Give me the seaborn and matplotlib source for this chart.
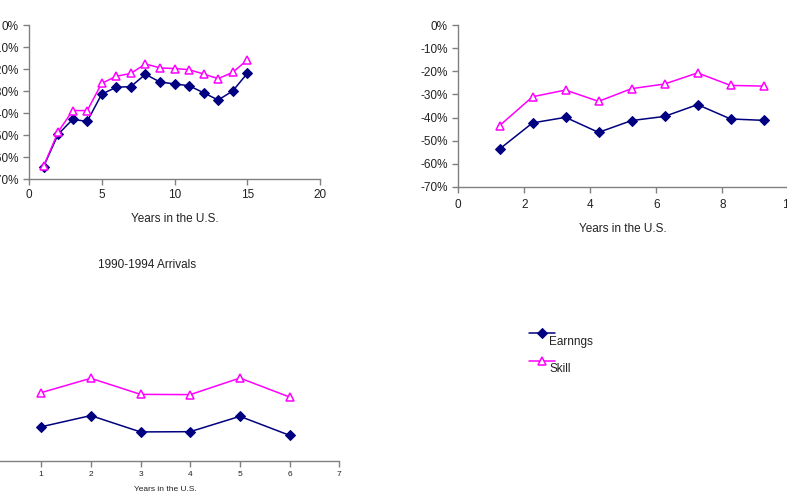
import matplotlib
matplotlib.use("Agg")
import matplotlib.pyplot as plt
import seaborn as sns
import pandas as pd
from matplotlib.ticker import FuncFormatter

sns.set_style("ticks")
plt.rcParams['font.family'] = ['Liberation Sans', 'DejaVu Sans']

# ---- data ----
years_a = [1, 2, 3, 4, 5, 6, 7, 8, 9, 10, 11, 12, 13, 14, 15]
earn_a = [-64.4, -49.7, -42.9, -43.8, -31.4, -28.3, -28.0, -22.4, -25.9, -26.8, -27.6, -30.8, -34.1, -30.0, -22.0]
skill_a = [-64.2, -48.6, -38.9, -38.9, -26.5, -23.3, -22.0, -17.7, -19.5, -19.8, -20.3, -22.3, -24.4, -21.5, -15.9]

years_b = [1.25, 2.25, 3.25, 4.25, 5.25, 6.25, 7.25, 8.25, 9.25]
earn_b = [-53.6, -42.3, -39.9, -46.4, -41.3, -39.5, -34.4, -40.6, -41.2]
skill_b = [-43.5, -31.0, -28.1, -33.0, -27.5, -25.5, -20.7, -26.1, -26.4]

years_c = [1, 2, 3, 4, 5, 6]
earn_c = [-56.1, -51.5, -58.2, -58.1, -51.8, -59.6]
skill_c = [-42.1, -36.2, -42.8, -42.9, -36.1, -43.9]

title_c = "1990-1994 Arrivals"
xlabel = "Years in the U.S."
series_names = ["Earnngs", "Skill"]

NAVY = "#000080"
MAGENTA = "#FF00FF"
AXC = "#808080"
TXT = "#222222"

W, H = 787, 498
fig = plt.figure(figsize=(W / 100, H / 100), dpi=100)


def px_axes(x0, x1, y0, y1):
    return fig.add_axes([x0 / W, 1 - y1 / H, (x1 - x0) / W, (y1 - y0) / H])


def draw(ax, xs, e, s, ms=5.5):
    df = pd.DataFrame({"x": xs + xs, "y": e + s,
                       "series": [series_names[0]] * len(xs) + [series_names[1]] * len(xs)})
    sns.lineplot(data=df[df.series == series_names[0]], x="x", y="y", ax=ax, color=NAVY,
                 marker="D", markersize=ms, markerfacecolor=NAVY, markeredgecolor=NAVY,
                 linewidth=1.1, label=series_names[0], legend=False)
    sns.lineplot(data=df[df.series == series_names[1]], x="x", y="y", ax=ax, color=MAGENTA,
                 marker="^", markersize=ms + 0.5, markerfacecolor="white", markeredgecolor=MAGENTA,
                 markeredgewidth=1.1, linewidth=1.1, label=series_names[1], legend=False)


def style(ax, fs, ticklen=4):
    for sp in ["top", "right"]:
        ax.spines[sp].set_visible(False)
    for sp in ["left", "bottom"]:
        ax.spines[sp].set_color(AXC)
        ax.spines[sp].set_linewidth(1.0)
    ax.tick_params(axis="both", colors=AXC, labelcolor=TXT, labelsize=fs, length=ticklen, width=1.0)
    ax.yaxis.set_major_formatter(FuncFormatter(lambda v, p: f"{int(round(v))}%"))
    ax.set_ylabel("")


# top-left
ax1 = px_axes(29, 320, 25, 179)
draw(ax1, years_a, earn_a, skill_a)
ax1.set_xlim(0, 20)
ax1.set_ylim(-70, 0)
ax1.set_xticks([0, 5, 10, 15, 20])
ax1.set_yticks(range(-70, 1, 10))
style(ax1, 8.5)
ax1.set_xlabel(xlabel, fontsize=8.5, color=TXT, labelpad=8)

# top-right
ax2 = px_axes(458.3, 788.3, 25, 187)
draw(ax2, years_b, earn_b, skill_b)
ax2.set_xlim(0, 10)
ax2.set_ylim(-70, 0)
ax2.set_xticks([0, 2, 4, 6, 8, 10])
ax2.set_yticks(range(-70, 1, 10))
style(ax2, 8.5)
ax2.tick_params(axis="x", pad=5)
ax2.set_xlabel(xlabel, fontsize=8.5, color=TXT, labelpad=8)

# bottom-left
ax3 = px_axes(-8.6, 339.3, 290, 460.7)
draw(ax3, years_c, earn_c, skill_c)
ax3.set_xlim(0, 7)
ax3.set_ylim(-70, 0)
ax3.set_xticks(range(0, 8))
ax3.set_yticks(range(-70, 1, 10))
style(ax3, 6)
ax3.set_xlabel(xlabel, fontsize=6, color=TXT, labelpad=6)
fig.text(147 / W, 1 - 265 / H, title_c, fontsize=8.5, color=TXT, ha="center", va="center")

handles, labels = ax3.get_legend_handles_labels()
leg = fig.legend(handles, labels, loc="upper left", bbox_to_anchor=(518 / W, 1 - 318 / H),
                 frameon=False, fontsize=8.5, handlelength=2.2, handletextpad=-0.45,
                 labelspacing=1.3, labelcolor=TXT)
for t in leg.get_texts():
    t.set_y(-7)

fig.savefig("out.png", dpi=100)
